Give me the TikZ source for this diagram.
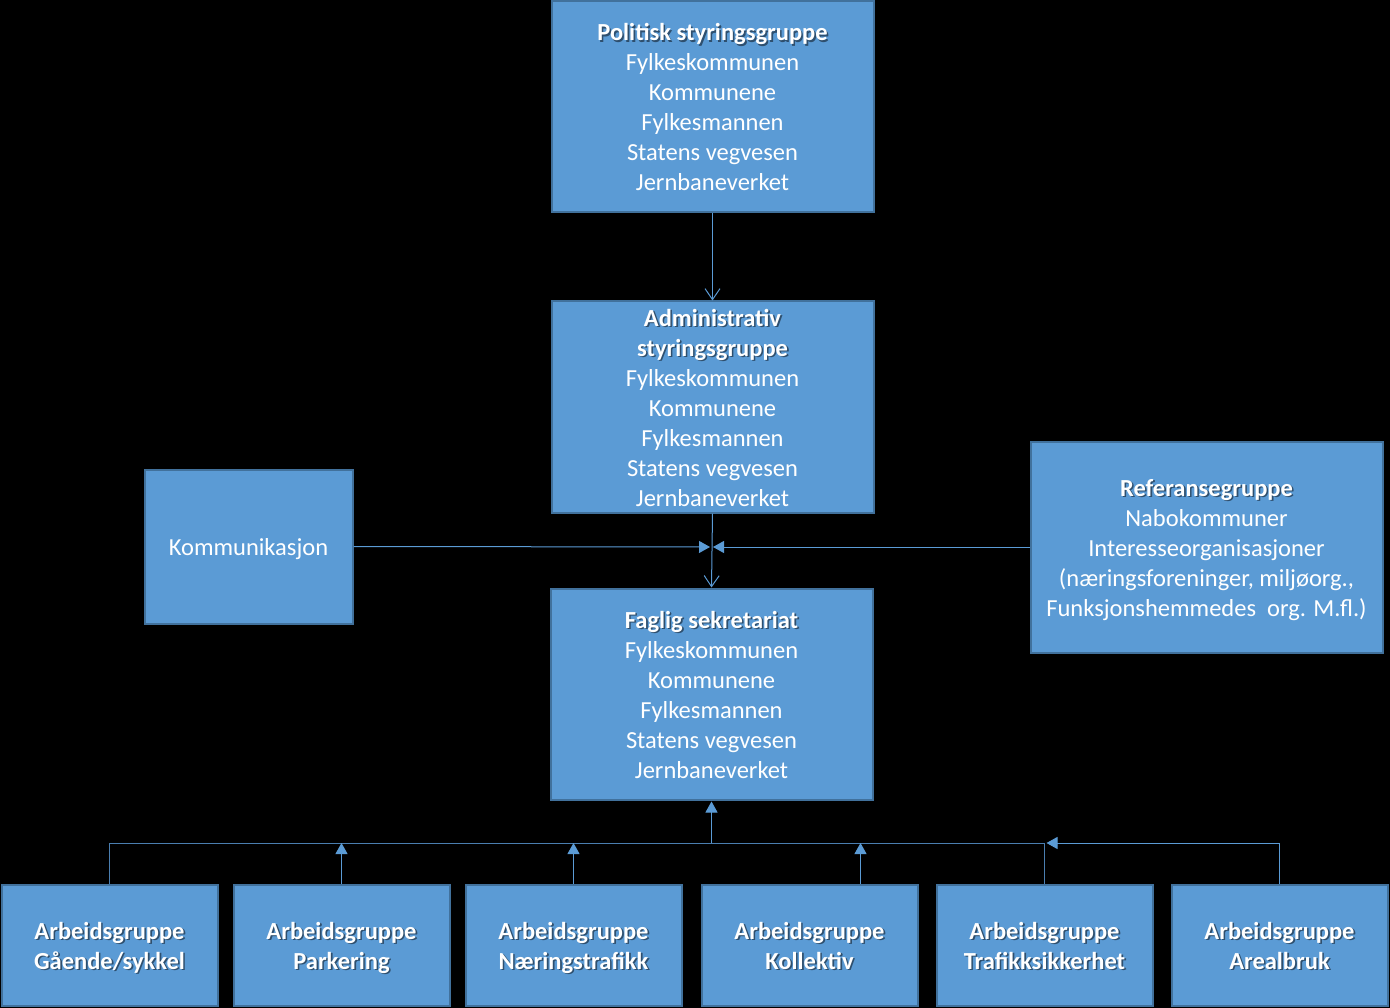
\documentclass[tikz,border=0pt]{standalone}
\usepackage{fontspec}
\setmainfont{Carlito}
\usetikzlibrary{arrows.meta,calc}
\definecolor{boxfill}{HTML}{5B9BD5}
\definecolor{boxline}{HTML}{41719C}
\definecolor{conn}{HTML}{5B9BD5}
\definecolor{busline}{HTML}{4A7EB0}
\definecolor{shad}{HTML}{2E4F6E}
\newcommand\mystrut{\rule[-6pt]{0pt}{30pt}}
\newcommand\shb[1]{\mystrut\makebox[0pt][l]{\raisebox{-1.6pt}{\hspace{1.6pt}\textcolor{shad}{\bfseries #1}}}{\bfseries #1}}
\newcommand\tln[1]{\mystrut #1}
\tikzset{
  box/.style={draw=boxline,line width=2pt,fill=boxfill,text=white,align=center,
    inner sep=0pt,font=\fontsize{24.5}{30}\selectfont},
  openarr/.style={draw=conn,line width=1pt,-{Straight Barb[length=11pt,width=15pt]}},
  fillarr/.style={draw=conn,line width=1pt,-{Triangle[length=11pt,width=12pt]}},
  busln/.style={draw=busline,line width=1pt}
}
\begin{document}
\begin{tikzpicture}[x=1pt,y=-1pt]
\fill[black] (0,0) rectangle (1390,1008);
\useasboundingbox (0,0) rectangle (1390,1008);

\node[box,minimum width=322pt,minimum height=211pt] (pol) at (712.5,107)
  {\shb{Politisk styringsgruppe}\\\tln{Fylkeskommunen}\\\tln{Kommunene}\\\tln{Fylkesmannen}\\\tln{Statens vegvesen}\\\tln{Jernbaneverket}};
\node[box,minimum width=322pt,minimum height=211pt] (adm) at (712.5,407)
  {\shb{Administrativ}\\\shb{styringsgruppe}\\\tln{Fylkeskommunen}\\\tln{Kommunene}\\\tln{Fylkesmannen}\\\tln{Statens vegvesen}\\\tln{Jernbaneverket}};
\node[box,minimum width=322pt,minimum height=211pt] (fag) at (711.5,694)
  {\shb{Faglig sekretariat}\\\tln{Fylkeskommunen}\\\tln{Kommunene}\\\tln{Fylkesmannen}\\\tln{Statens vegvesen}\\\tln{Jernbaneverket}};
\node[box,minimum width=208pt,minimum height=154pt] (kom) at (248.5,546.5)
  {\tln{Kommunikasjon}};
\node[box,minimum width=352pt,minimum height=211pt] (ref) at (1206.5,547)
  {\shb{Referansegruppe}\\\tln{Nabokommuner}\\\tln{Interesseorganisasjoner}\\\tln{(næringsforeninger, miljøorg.,}\\\tln{Funksjonshemmedes\ \ org. M.fl.)}};

\node[box,minimum width=216pt,minimum height=121pt] (g1) at (109.5,945)
  {\shb{Arbeidsgruppe}\\\shb{Gående/sykkel}};
\node[box,minimum width=216pt,minimum height=121pt] (g2) at (341.5,945)
  {\shb{Arbeidsgruppe}\\\shb{Parkering}};
\node[box,minimum width=216pt,minimum height=121pt] (g3) at (573.5,945)
  {\shb{Arbeidsgruppe}\\\shb{Næringstrafikk}};
\node[box,minimum width=216pt,minimum height=121pt] (g4) at (809.5,945)
  {\shb{Arbeidsgruppe}\\\shb{Kollektiv}};
\node[box,minimum width=216pt,minimum height=121pt] (g5) at (1044.5,945)
  {\shb{Arbeidsgruppe}\\\shb{Trafikksikkerhet}};
\node[box,minimum width=216pt,minimum height=121pt] (g6) at (1279.5,945)
  {\shb{Arbeidsgruppe}\\\shb{Arealbruk}};

% top connectors
\draw[openarr] (pol.south) -- (adm.north);
\draw[openarr] (adm.south) -- (fag.north);
\coordinate (mid) at (711.5,547);
\draw[fillarr,shorten >=1.5pt] (kom.east) -- (mid);
\draw[fillarr,shorten >=1.5pt] (ref.west) -- (mid);

% bus
\coordinate (bus) at (0,843);
\coordinate (g4c) at ($(g4.north)+(51,0)$);
\draw[busln] (g1.north) |- (g5.north |- bus) -- (g5.north);
\draw[fillarr,shorten >=1pt] (fag.south |- bus) -- (fag.south);
\draw[fillarr] (g2.north) -- (g2.north |- bus);
\draw[fillarr] (g3.north) -- (g3.north |- bus);
\draw[fillarr] (g4c) -- (g4c |- bus);
\draw[fillarr,shorten >=2pt] (g6.north) |- (g5.north |- bus);
\end{tikzpicture}
\end{document}
